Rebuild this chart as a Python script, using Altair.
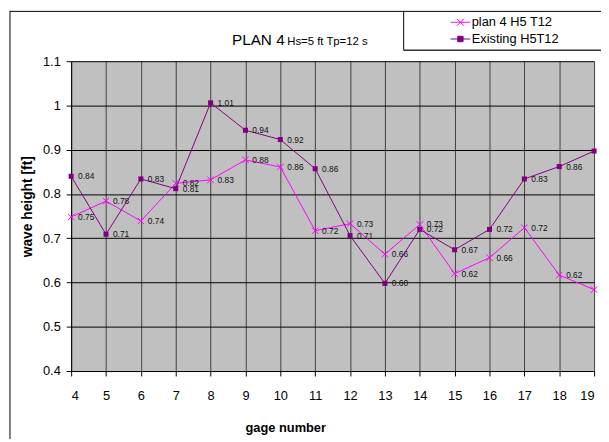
import altair as alt
import pandas as pd

# ---- data ----
gages = list(range(4, 20))
plan4 = [0.748, 0.784, 0.739, 0.824, 0.832, 0.877, 0.861, 0.717,
         0.733, 0.664, 0.731, 0.620, 0.656, 0.724, 0.617, 0.584]
existing = [0.840, 0.709, 0.834, 0.812, 1.006, 0.944, 0.923, 0.857,
            0.706, 0.598, 0.720, 0.674, 0.720, 0.834, 0.862, 0.897]
series_names = ["plan 4 H5 T12", "Existing H5T12"]
series_colors = ["#FF00FF", "#800080"]
y_ticks = [0.4, 0.5, 0.6, 0.7, 0.8, 0.9, 1.0, 1.1]
title_main = "PLAN 4"
title_sub = "Hs=5 ft Tp=12 s"
x_title = "gage number"
y_title = "wave height [ft]"

FONT = "Liberation Sans, Arial, sans-serif"

df = pd.DataFrame({
    "gage": gages * 2,
    "h": plan4 + existing,
    "series": [series_names[0]] * len(gages) + [series_names[1]] * len(gages),
})

X = alt.X("gage:Q",
          scale=alt.Scale(domain=[4, 19], nice=False, zero=False),
          axis=alt.Axis(values=gages, title=x_title, format="d",
                        labelPadding=20, labelBaseline="middle",
                        titleX=217, titleY=57, titleBaseline="middle",
                        titleAnchor="start", titleAlign="center",
                        titleFontSize=13, gridColor="#404040"))
Y = alt.Y("h:Q",
          scale=alt.Scale(domain=[0.4, 1.1], nice=False, zero=False),
          axis=alt.Axis(values=y_ticks, title=y_title, format=".1~f",
                        labelPadding=6, titleX=-44, titleY=147,
                        titleAngle=270, titleBaseline="middle",
                        titleAlign="center", gridColor="#000000"))

one = pd.DataFrame({"k": [0]})
layers = []

for name, color, shape, filled, size in [
    (series_names[0], series_colors[0], "M-1,-1L1,1M-1,1L1,-1", False, 42),
    (series_names[1], series_colors[1], "square", True, 26),
]:
    sub = alt.Chart(df).transform_filter(alt.datum.series == name)
    layers.append(sub.mark_line(color=color, strokeWidth=1).encode(x=X, y=Y))
    layers.append(sub.mark_point(shape=shape, filled=filled, color=color,
                                 size=size, strokeWidth=1, opacity=1).encode(x=X, y=Y))
    layers.append(sub.mark_text(align="left", baseline="middle", dx=7,
                                font=FONT, fontSize=8.5, color="#111111")
                  .encode(x=X, y=Y, text=alt.Text("h:Q", format=".2f")))

# legend-only layer (no visible data, explicit domain)
legend_df = pd.DataFrame({"series": series_names, "gage": [None, None], "h": [None, None]})
leg_shapes = ["M-1.25,0H1.25M-0.44,-0.44L0.44,0.44M-0.44,0.44L0.44,-0.44",
              "M-1.25,0H1.25M-0.34,-0.34H0.34V0.34H-0.34Z"]
leg = alt.Legend(title=None, orient="none", legendX=386, legendY=-48,
                 labelFont=FONT, labelFontSize=13, labelColor="#000000",
                 symbolSize=256, rowPadding=1, labelOffset=3, padding=0,
                 symbolStrokeWidth=1)
layers.append(
    alt.Chart(legend_df).mark_point(size=256, strokeWidth=1, opacity=1).encode(
        x=X, y=Y,
        shape=alt.Shape("series:N", scale=alt.Scale(domain=series_names, range=leg_shapes), legend=leg),
        fill=alt.Fill("series:N", scale=alt.Scale(domain=series_names, range=series_colors), legend=leg),
        stroke=alt.Stroke("series:N", scale=alt.Scale(domain=series_names, range=series_colors), legend=leg),
    )
)

# chart frame and legend box
layers.append(alt.Chart(one).mark_rule(color="black", strokeWidth=1).encode(
    x=alt.value(-62), y=alt.value(-51), y2=alt.value(383)))
layers.append(alt.Chart(one).mark_rule(color="black", strokeWidth=1).encode(
    x=alt.value(-62), x2=alt.value(540), y=alt.value(-50.5)))
layers.append(alt.Chart(one).mark_rule(color="black", strokeWidth=1).encode(
    x=alt.value(337), y=alt.value(-51), y2=alt.value(-11)))
layers.append(alt.Chart(one).mark_rule(color="#333333", strokeWidth=1.5).encode(
    x=alt.value(337), x2=alt.value(540), y=alt.value(-11)))

# chart title (two sizes on one line)
layers.append(alt.Chart(one).mark_text(text=title_main, align="left", baseline="alphabetic",
                                       font=FONT, fontSize=15.5, color="#000000").encode(
    x=alt.value(163), y=alt.value(-16)))
layers.append(alt.Chart(one).mark_text(text=title_sub, align="left", baseline="alphabetic",
                                       font=FONT, fontSize=11.5, color="#000000").encode(
    x=alt.value(219), y=alt.value(-16)))

chart = alt.layer(*layers).properties(
    width=530, height=314,
    background="#FFFFFF",
    autosize=alt.AutoSizeParams(type="none"),
    padding={"left": 64, "top": 51, "right": 7, "bottom": 69},
).configure_view(
    fill="#C0C0C0", stroke=None
).configure_axis(
    labelFont=FONT, labelFontSize=13, labelColor="#000000",
    titleFont=FONT, titleFontSize=14, titleFontWeight="bold", titleColor="#000000",
    domainColor="#000000", tickColor="#000000", tickSize=5,
    grid=True, gridOpacity=1, gridWidth=1,
)

chart.save("out.html", embed_options={"renderer": "svg", "actions": False})
